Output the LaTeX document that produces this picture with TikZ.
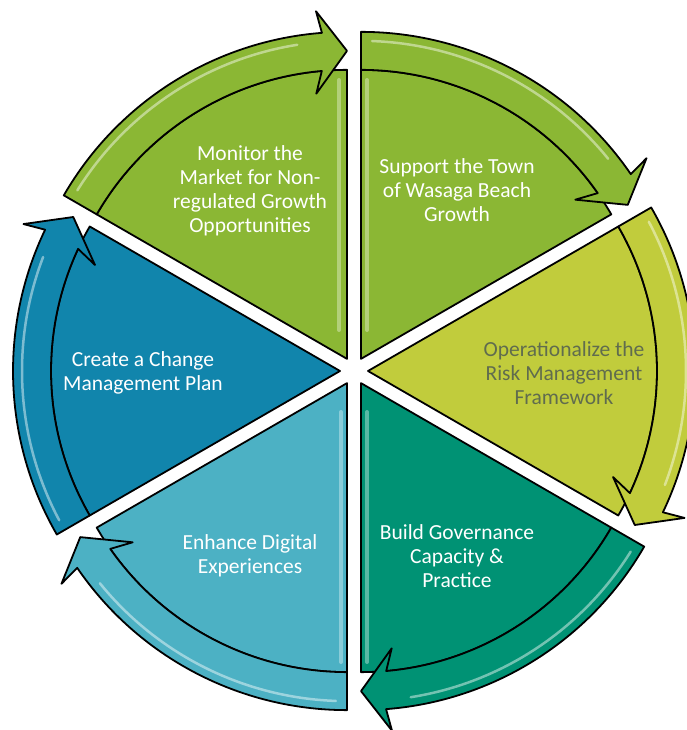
\documentclass[tikz,border=0pt]{standalone}
\usepackage{fontspec}
\setmainfont{Carlito}
\definecolor{cMon}{RGB}{139,183,52}
\definecolor{cSup}{RGB}{139,183,52}
\definecolor{cOpe}{RGB}{193,204,60}
\definecolor{cBui}{RGB}{0,146,116}
\definecolor{cEnh}{RGB}{76,177,196}
\definecolor{cCre}{RGB}{17,133,172}
\definecolor{cOpeTxt}{RGB}{96,108,78}
\tikzset{
  segline/.style={draw=black, line width=1.8pt, line join=round},
  lbl/.style={align=center, font=\fontsize{21.5}{24}\selectfont, text=white, inner sep=0pt},
  gloss/.style={draw=white, line cap=round, opacity=0.45, line width=2.5pt},
  strip/.style={draw=white, line cap=round, opacity=0.35, line width=4pt}
}
\begin{document}
\begin{tikzpicture}[x=1pt,y=1pt]
\useasboundingbox (0,0) rectangle (686,730);
\def\Rin{289}\def\Rout{327}\def\Rmid{308}
\foreach \s/\col in {150/cMon, 90/cSup, 30/cOpe, -30/cBui, -90/cEnh, -150/cCre}{
  \pgfmathsetmacro\e{\s-60}
  \pgfmathsetmacro\m{\s-30}
  \pgfmathsetmacro\ojA{\e+4.4}
  \pgfmathsetmacro\obA{\e+5.1}
  \pgfmathsetmacro\ibA{\e+6.6}
  \pgfmathsetmacro\ijA{\e+5.0}
  \pgfmathsetmacro\gA{\s-2}
  \pgfmathsetmacro\gB{\e+9}
  \begin{scope}[shift={(354,359)}, shift={(\m:14)}]
    \fill[\col, segline] (0,0) -- (\s:\Rin) arc[start angle=\s, end angle=\e, radius=\Rin] -- cycle;
    \fill[\col, segline] (\s:\Rout) arc[start angle=\s, end angle=\ojA, radius=\Rout]
      -- (\obA:349) -- (\e:\Rmid) -- (\ibA:267) -- (\ijA:\Rin)
      arc[start angle=\ijA, end angle=\s, radius=\Rin] -- cycle;
    \draw[gloss] (\gA:318) arc[start angle=\gA, end angle=\gB, radius=318];
  \end{scope}
}
% light strips along the vertical edges
\draw[strip] (339,400) -- (339,650);
\draw[strip] (367,400) -- (367,650);
\draw[strip] (367,318) -- (367,68);
\draw[strip] (341,318) -- (341,68);
\node[lbl] (mon) at (250,539) {Monitor the\\Market for Non-\\regulated Growth\\Opportunities};
\node[lbl] (sup) at (457,540) {Support the Town\\of Wasaga Beach\\Growth};
\node[lbl, text=cOpeTxt] (ope) at (564,357) {Operationalize the\\Risk Management\\Framework};
\node[lbl] (cre) at (143,357) {Create a Change\\Management Plan};
\node[lbl] (enh) at (250,174) {Enhance Digital\\Experiences};
\node[lbl] (bui) at (457,174) {Build Governance\\Capacity \&\\Practice};
\end{tikzpicture}
\end{document}
